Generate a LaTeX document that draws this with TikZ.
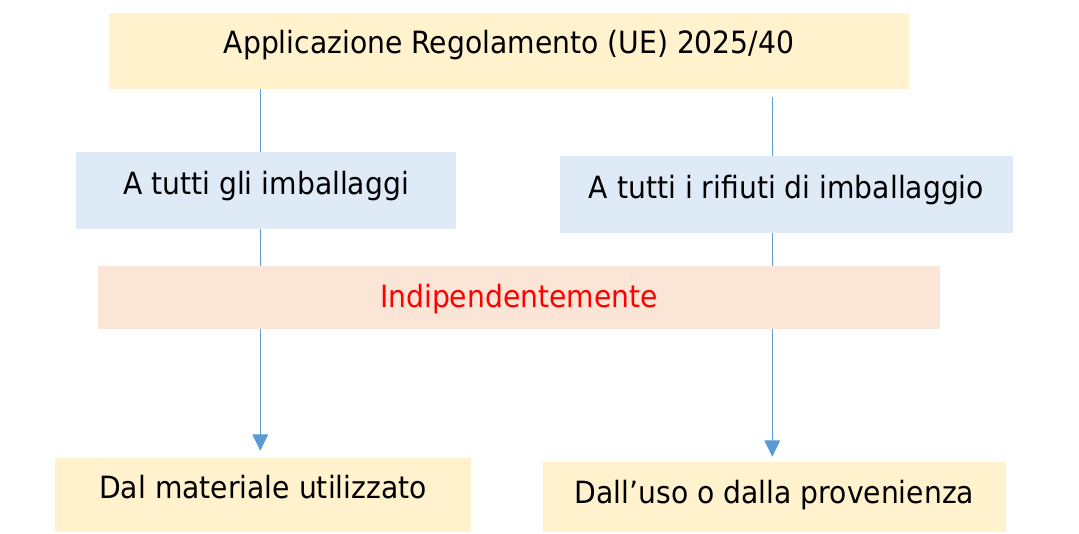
\documentclass[tikz,border=0pt]{standalone}
\usepackage{fontspec}
\setmainfont{DejaVu Sans}[FakeStretch=0.92]
\usetikzlibrary{arrows.meta}
\pgfdeclarelayer{bg}
\pgfsetlayers{bg,main}
\definecolor{boxyellow}{HTML}{FFF2CC}
\definecolor{boxblue}{HTML}{DEEBF7}
\definecolor{boxorange}{HTML}{FBE5D6}
\definecolor{linkblue}{HTML}{5B9BD5}
\definecolor{txtred}{HTML}{FF0000}
\tikzset{
  box/.style={rectangle, inner sep=0pt, align=center, text height=20pt,
    font=\fontsize{23}{28}\selectfont},
  arr/.style={draw=linkblue, line width=0.75pt,
    -{Triangle[width=11.7pt,length=12.2pt]}}
}
\begin{document}
\begin{tikzpicture}[x=0.75pt,y=-0.75pt]
\useasboundingbox (0,0) rectangle (1079,534);
\node[box, fill=boxyellow, minimum width=600pt, minimum height=57pt, text depth=15.5pt]
  (top) at (509,51) {Applicazione Regolamento (UE) 2025/40};
\node[box, fill=boxblue, minimum width=285pt, minimum height=57.75pt, text depth=13.25pt]
  (lb) at (266,190.5) {A tutti gli imballaggi};
\node[box, fill=boxblue, minimum width=339.75pt, minimum height=57.75pt, text depth=13.25pt]
  (rb) at (786.5,194.5) {A tutti i rifiuti di imballaggio};
\node[box, fill=boxorange, text=txtred, minimum width=631.5pt, minimum height=47.25pt, text depth=4.25pt]
  (ind) at (519,297.5) {Indipendentemente};
\node[box, fill=boxyellow, minimum width=312pt, minimum height=55.5pt, text depth=14pt]
  (bl) at (263,495) {Dal materiale utilizzato};
\node[box, fill=boxyellow, minimum width=347.25pt, minimum height=52.5pt, text depth=9.5pt]
  (br) at (774.5,497) {Dall’uso o dalla provenienza};
\coordinate (lx) at (260.3,0);
\coordinate (rx) at (772.3,0);
\begin{pgfonlayer}{bg}
\draw[arr, shorten >=5.25pt] (top.south -| lx) -- (bl.north -| lx);
\draw[arr, shorten <=6pt, shorten >=3.75pt] (top.south -| rx) -- (br.north -| rx);
\end{pgfonlayer}
\end{tikzpicture}
\end{document}
